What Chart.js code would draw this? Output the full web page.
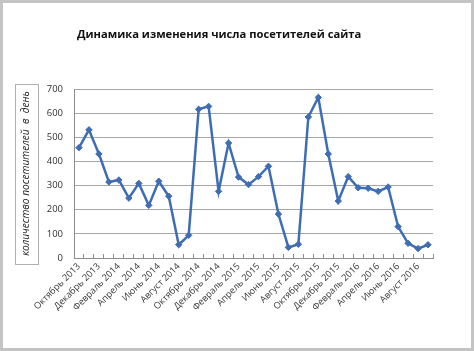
<!DOCTYPE html>
<html>
<head>
<meta charset="utf-8">
<script src="https://cdn.jsdelivr.net/npm/chart.js@4.4.1/dist/chart.umd.min.js"></script>
<style>
  html, body { margin: 0; padding: 0; background: #fff; }
  #wrap { width: 474px; height: 351px; position: relative; }
</style>
</head>
<body>
<div id="wrap"><canvas id="visitorsChart"></canvas></div>
<script>
// ─── data ─────────────────────────────────────────────────────────────────────
const months = [
  'Октябрь 2013', 'Ноябрь 2013', 'Декабрь 2013', 'Январь 2014', 'Февраль 2014', 'Март 2014',
  'Апрель 2014', 'Май 2014', 'Июнь 2014', 'Июль 2014', 'Август 2014', 'Сентябрь 2014',
  'Октябрь 2014', 'Ноябрь 2014', 'Декабрь 2014', 'Январь 2015', 'Февраль 2015', 'Март 2015',
  'Апрель 2015', 'Май 2015', 'Июнь 2015', 'Июль 2015', 'Август 2015', 'Сентябрь 2015',
  'Октябрь 2015', 'Ноябрь 2015', 'Декабрь 2015', 'Январь 2016', 'Февраль 2016', 'Март 2016',
  'Апрель 2016', 'Май 2016', 'Июнь 2016', 'Июль 2016', 'Август 2016', 'Сентябрь 2016',
];
const visitors = [
  457, 531, 431, 315, 323, 248, 309, 218, 318, 256, 55, 94,
  616, 628, 276, 476, 335, 304, 337, 380, 182, 44, 57, 584,
  665, 431, 236, 337, 291, 289, 276, 294, 130, 61, 39, 55,
];
const yTicks = [0, 100, 200, 300, 400, 500, 600, 700];

const chartTitle = 'Динамика изменения числа посетителей сайта';
const yTitle = 'количество посетителей  в  день';

const FONT = '"Open Sans", "DejaVu Sans", sans-serif';
const lineBlue = '#3e6db3';

// title, outer frame and the boxed y-axis caption
const decorations = {
  id: 'decorations',
  beforeDraw(chart) {
    const { ctx, width, height } = chart;
    ctx.save();
    ctx.fillStyle = '#fff';
    ctx.fillRect(0, 0, width, height);
    ctx.fillStyle = '#111';
    ctx.font = 'bold 11.2px ' + FONT;
    ctx.textBaseline = 'middle';
    ctx.textAlign = 'left';
    ctx.fillText(chartTitle, 77, 35);
    ctx.restore();
  },
  afterDraw(chart) {
    const { ctx, width, height, chartArea } = chart;
    ctx.save();
    ctx.strokeStyle = '#b0b0b0';
    ctx.lineWidth = 1;
    const cy = (chartArea.top + chartArea.bottom) / 2;
    ctx.strokeRect(15.5, Math.round(cy - 90) + 0.5, 23, 180);
    ctx.strokeStyle = '#c4c4c4';
    ctx.lineWidth = 3;
    ctx.strokeRect(1.5, 1.5, width - 3, height - 3);
    ctx.restore();
  },
};

new Chart(document.getElementById('visitorsChart'), {
  type: 'line',
  data: {
    labels: months,
    datasets: [{
      data: visitors,
      borderColor: lineBlue,
      backgroundColor: lineBlue,
      borderWidth: 2.5,
      tension: 0,
      pointStyle: 'rectRot',
      pointRadius: 3.2,
      pointBackgroundColor: lineBlue,
      pointBorderColor: lineBlue,
      pointBorderWidth: 1,
    }],
  },
  options: {
    responsive: true,
    maintainAspectRatio: false,
    animation: false,
    layout: { padding: { left: 0, right: 41, top: 89, bottom: 0 } },
    plugins: {
      legend: { display: false },
      tooltip: { enabled: false },
    },
    scales: {
      x: {
        offset: true,
        afterFit: s => { s.height = 93; },
        border: { color: '#8c8c8c', width: 1 },
        grid: {
          offset: true,
          drawOnChartArea: false,
          drawTicks: true,
          tickLength: -4,
          color: '#8c8c8c',
        },
        ticks: {
          autoSkip: false,
          minRotation: 45,
          maxRotation: 45,
          padding: 7,
          color: '#383838',
          font: { family: FONT, size: 9.2 },
          callback: (v, i) => (i % 2 === 0 ? months[i] : ''),
        },
      },
      y: {
        min: yTicks[0],
        max: yTicks[yTicks.length - 1],
        afterFit: s => { s.width = 74; },
        afterBuildTicks: s => { s.ticks = yTicks.map(v => ({ value: v })); },
        border: { color: '#8c8c8c', width: 1 },
        grid: { color: '#a6a6a6', lineWidth: 1, drawTicks: false },
        ticks: {
          padding: 11,
          color: '#303030',
          font: { family: FONT, size: 9.5 },
        },
        title: {
          display: true,
          text: yTitle,
          color: '#222',
          font: { family: FONT, size: 10.2, style: 'italic' },
          padding: { top: 20, bottom: 0 },
        },
      },
    },
  },
  plugins: [decorations],
});
</script>
</body>
</html>
